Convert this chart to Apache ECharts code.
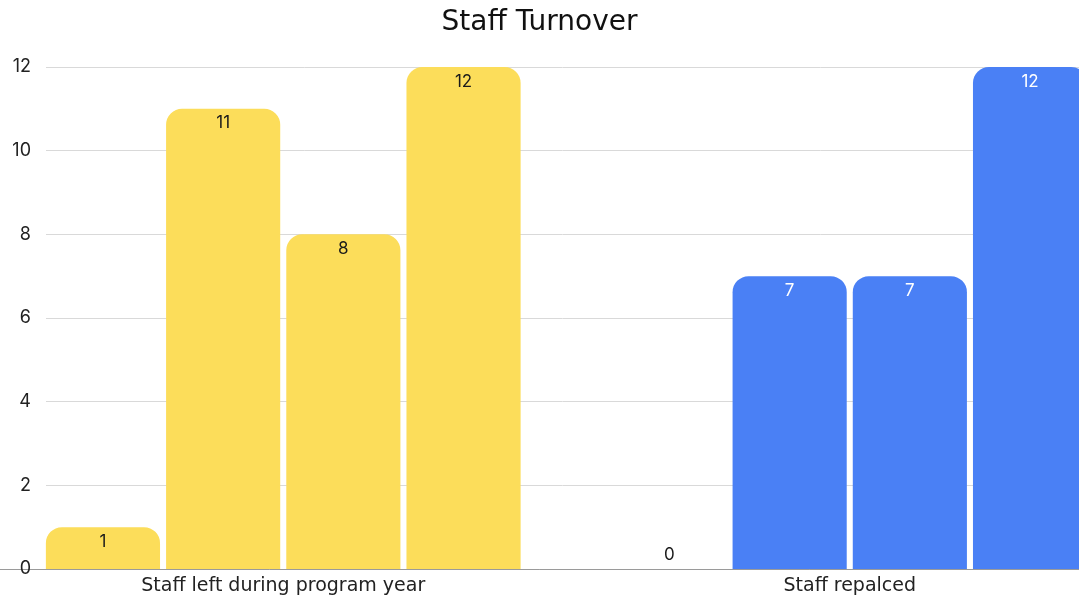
<!DOCTYPE html>
<html>
<head>
<meta charset="utf-8">
<script src="https://cdn.jsdelivr.net/npm/echarts@6/dist/echarts.min.js"></script>
<style>
  html, body { margin: 0; padding: 0; background: #fff; }
  #chart { width: 1079px; height: 596px; }
</style>
</head>
<body>
<div id="chart"></div>
<script>
const categories = ['Staff left during program year', 'Staff repalced'];
// one series per bar slot, values for [left, replaced]
const slot1 = [1, 0];
const slot2 = [11, 7];
const slot3 = [8, 7];
const slot4 = [12, 12];
const yTicks = [0, 2, 4, 6, 8, 10, 12];

const groupColors = ['#FCDD5A', '#4A80F5'];
const labelColors = ['#1a1a1a', '#ffffff'];
const font = 'Inter, "Noto Sans", sans-serif';
const wideFont = '"DejaVu Sans", sans-serif';

function makeData(values){
  return values.map((v, i) => ({
    value: v,
    itemStyle: {color: groupColors[i]},
    label: v === 0
      ? {position: 'top', color: '#1a1a1a', distance: 6}
      : {position: 'insideTop', color: labelColors[i], distance: 6}
  }));
}

const series = [slot1, slot2, slot3, slot4].map(vals => ({
  type: 'bar',
  xAxisIndex: 1,
  yAxisIndex: 1,
  barGap: '5.3%',
  barCategoryGap: '16.2%',
  itemStyle: {borderRadius: [16, 16, 0, 0]},
  label: {show: true, fontSize: 17, fontFamily: font},
  data: makeData(vals)
}));

const chart = echarts.init(document.getElementById('chart'));
chart.setOption({
  animation: false,
  title: {
    text: 'Staff Turnover',
    left: 'center',
    top: 4,
    textStyle: {fontSize: 28, fontWeight: 'normal', color: '#111', fontFamily: wideFont}
  },
  grid: [
    {left: 46, right: 0, top: 67, bottom: 27, outerBoundsMode: 'none', containLabel: false},
    {left: 0, right: -54, top: 67, bottom: 27, outerBoundsMode: 'none', containLabel: false}
  ],
  xAxis: [
    {type: 'category', gridIndex: 0, data: categories, show: false},
    {
      type: 'category', gridIndex: 1, data: categories,
      axisTick: {show: false},
      axisLine: {lineStyle: {color: '#9a9a9a'}},
      axisLabel: {fontSize: 19, color: '#222', margin: 8, fontFamily: wideFont}
    }
  ],
  yAxis: [
    {
      type: 'value', gridIndex: 0, min: yTicks[0], max: yTicks[yTicks.length - 1], interval: 2,
      axisLine: {show: false}, axisTick: {show: false},
      axisLabel: {fontSize: 18, color: '#222', margin: 15, fontFamily: font},
      splitLine: {lineStyle: {color: '#d9d9d9'}}
    },
    {
      type: 'value', gridIndex: 1, min: yTicks[0], max: yTicks[yTicks.length - 1], interval: 2,
      show: false, splitLine: {show: false}
    }
  ],
  series
});
</script>
</body>
</html>
